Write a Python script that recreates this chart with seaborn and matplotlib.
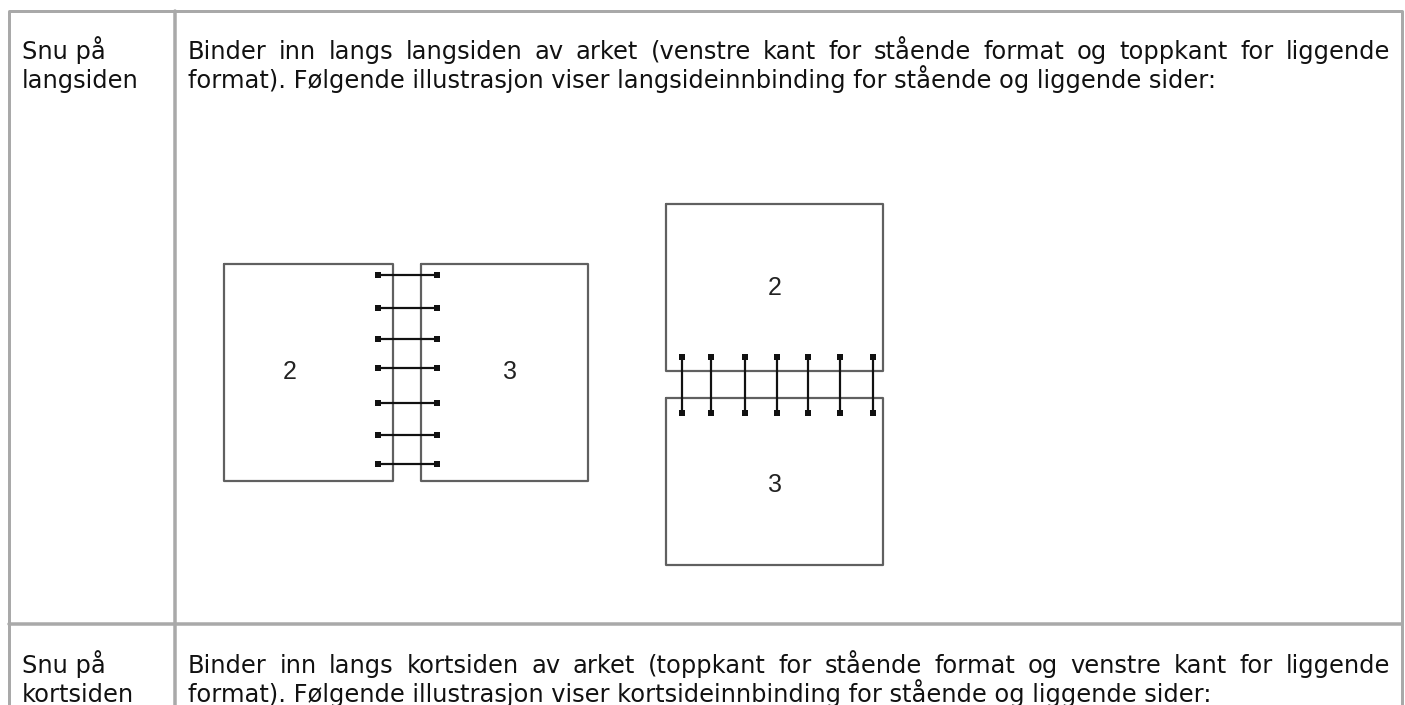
import numpy as np
import pandas as pd
import seaborn as sns
import matplotlib.pyplot as plt

# --- content of the table ---
row_labels = [["Snu på", "langsiden"], ["Snu på", "kortsiden"]]
row_texts = [
    ["Binder inn langs langsiden av arket (venstre kant for stående format og toppkant for liggende",
     "format). Følgende illustrasjon viser langsideinnbinding for stående og liggende sider:"],
    ["Binder inn langs kortsiden av arket (toppkant for stående format og venstre kant for liggende",
     "format). Følgende illustrasjon viser kortsideinnbinding for stående og liggende sider:"],
]
row_baselines = [59, 673]

# --- illustration (pixel coordinates of the screenshot) ---
page_numbers = ["2", "3"]
side_pages = [(224, 264, 393, 481), (421, 264, 588, 481)]      # x0, y0, x1, y1
side_num_pos = [(290, 372), (510, 372)]
side_rings_y = [275, 308, 339, 368, 403, 435, 464]
side_rings_x = (378, 437)

top_pages = [(666, 204, 883, 371), (666, 398, 883, 565)]
top_num_pos = [(775, 288), (775, 485)]
top_rings_x = [682, 711, 745, 777, 808, 840, 873]
top_rings_y = (357, 413)

sns.set_theme(style="white")
plt.rcParams['font.family'] = ['DejaVu Sans']

fig = plt.figure(figsize=(14.05, 7.05), dpi=100)
ax = fig.add_axes([0, 0, 1, 1])
ax.set_xlim(0, 1405)
ax.set_ylim(705, 0)
ax.axis("off")
renderer = fig.canvas.get_renderer()

px = 0.72  # points per pixel
grid = "#a9a9a9"
fs = 17.4
text_col = "#111111"

# table borders
ax.plot([9, 1402, 1402], [11, 11, 705], color=grid, lw=3 * px, solid_capstyle="butt")
ax.plot([9, 9], [11, 705], color=grid, lw=3 * px)
ax.plot([175, 175], [11, 705], color=grid, lw=3.5 * px)
ax.plot([9, 1402], [624, 624], color=grid, lw=3.5 * px)


def justified(x0, x1, y, line):
    # html "text-align: justify": spread the words of a full line over the cell
    words = line.split(" ")
    arts = [ax.text(0, y, w, fontsize=fs, va="baseline", ha="left", color=text_col) for w in words]
    inv = ax.transData.inverted()
    widths = []
    for a in arts:
        bb = a.get_window_extent(renderer)
        widths.append(inv.transform((bb.x1, 0))[0] - inv.transform((bb.x0, 0))[0])
    gap = (x1 - x0 - sum(widths)) / (len(words) - 1)
    x = x0
    for a, w in zip(arts, widths):
        a.set_x(x)
        x += w + gap


# texts
for labels, texts, y in zip(row_labels, row_texts, row_baselines):
    for i, lab in enumerate(labels):
        ax.text(22, y + 29 * i, lab, fontsize=fs, va="baseline", ha="left", color=text_col)
    justified(188, 1390, y, texts[0])
    ax.text(188, y + 29, texts[1], fontsize=fs, va="baseline", ha="left", color=text_col)

page_col = "#606060"
ring_col = "#111111"


def draw_page(x0, y0, x1, y1):
    ax.plot([x0, x1, x1, x0, x0], [y0, y0, y1, y1, y0], color=page_col, lw=2.2 * px,
            solid_joinstyle="round")


# side binding (left/right pages)
for (x0, y0, x1, y1) in side_pages:
    draw_page(x0, y0, x1, y1)
for num, (x, y) in zip(page_numbers, side_num_pos):
    ax.text(x, y, num, fontsize=18, ha="center", va="center", color="#222222",
            family="Liberation Sans")
ax.hlines(side_rings_y, side_rings_x[0], side_rings_x[1], color=ring_col, lw=2.2 * px)
dots = pd.DataFrame({"x": [side_rings_x[0]] * len(side_rings_y) + [side_rings_x[1]] * len(side_rings_y),
                     "y": side_rings_y * 2})
sns.scatterplot(data=dots, x="x", y="y", marker="s", s=24, color=ring_col, linewidth=0, ax=ax)

# top binding (upper/lower pages)
for (x0, y0, x1, y1) in top_pages:
    draw_page(x0, y0, x1, y1)
for num, (x, y) in zip(page_numbers, top_num_pos):
    ax.text(x, y, num, fontsize=18, ha="center", va="center", color="#222222",
            family="Liberation Sans")
ax.vlines(top_rings_x, top_rings_y[0], top_rings_y[1], color=ring_col, lw=2.2 * px)
dots2 = pd.DataFrame({"x": top_rings_x * 2,
                      "y": [top_rings_y[0]] * len(top_rings_x) + [top_rings_y[1]] * len(top_rings_x)})
sns.scatterplot(data=dots2, x="x", y="y", marker="s", s=24, color=ring_col, linewidth=0, ax=ax)

ax.set_xlim(0, 1405)
ax.set_ylim(705, 0)
ax.set_xlabel("")
ax.set_ylabel("")
fig.savefig("out.png", dpi=100)
